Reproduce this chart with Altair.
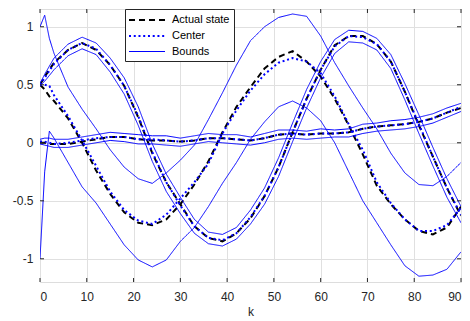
import altair as alt
import pandas as pd

# sample instants (k)
K = [0, 1, 2, 3, 6, 9, 12, 15, 18, 21, 24, 27, 30, 33, 36, 39, 42, 45,
     48, 51, 54, 57, 60, 63, 66, 69, 72, 75, 78, 81, 84, 87, 90]

# state 1 (large oscillation, tight bounds)
A_actual = [0.50, 0.57, 0.63, 0.69, 0.80, 0.86, 0.80, 0.67, 0.49, 0.22, -0.09, -0.34, -0.53, -0.72, -0.82, -0.85, -0.78,
            -0.65, -0.46, -0.21, 0.09, 0.38, 0.63, 0.84, 0.92, 0.92, 0.85, 0.70, 0.44, 0.15, -0.12, -0.39, -0.63]
A_center = [0.50, 0.56, 0.62, 0.68, 0.80, 0.86, 0.81, 0.67, 0.49, 0.23, -0.08, -0.34, -0.54, -0.72, -0.82, -0.84, -0.78,
            -0.64, -0.46, -0.21, 0.09, 0.38, 0.63, 0.83, 0.92, 0.91, 0.85, 0.70, 0.44, 0.16, -0.12, -0.39, -0.62]
A_upper = [0.51, 0.59, 0.66, 0.73, 0.85, 0.91, 0.86, 0.73, 0.56, 0.31, -0.01, -0.27, -0.47, -0.66, -0.77, -0.79, -0.73,
           -0.58, -0.39, -0.13, 0.17, 0.46, 0.70, 0.89, 0.97, 0.96, 0.90, 0.76, 0.51, 0.24, -0.04, -0.31, -0.55]
A_lower = [0.49, 0.53, 0.58, 0.63, 0.75, 0.81, 0.76, 0.61, 0.42, 0.15, -0.16, -0.42, -0.61, -0.78, -0.87, -0.89, -0.83,
           -0.70, -0.53, -0.29, 0.01, 0.30, 0.56, 0.77, 0.87, 0.86, 0.80, 0.64, 0.37, 0.08, -0.20, -0.47, -0.69]

# state 2 (near zero, slowly rising)
B_actual = [0.00, 0.00, -0.01, -0.01, -0.01, 0.01, 0.03, 0.05, 0.05, 0.03, 0.02, 0.02, 0.01, 0.02, 0.04, 0.04, 0.03,
            0.02, 0.04, 0.07, 0.08, 0.07, 0.08, 0.08, 0.09, 0.12, 0.14, 0.15, 0.16, 0.18, 0.21, 0.26, 0.30]
B_center = [0.01, 0.01, 0.00, -0.01, 0.00, 0.02, 0.04, 0.05, 0.05, 0.03, 0.03, 0.02, 0.01, 0.02, 0.04, 0.04, 0.03,
            0.02, 0.04, 0.07, 0.08, 0.07, 0.08, 0.08, 0.09, 0.12, 0.14, 0.15, 0.16, 0.18, 0.21, 0.26, 0.31]
B_upper = [0.03, 0.04, 0.04, 0.03, 0.03, 0.05, 0.07, 0.09, 0.08, 0.07, 0.06, 0.06, 0.04, 0.06, 0.08, 0.07, 0.07,
           0.05, 0.08, 0.11, 0.11, 0.10, 0.12, 0.11, 0.12, 0.16, 0.17, 0.19, 0.20, 0.22, 0.25, 0.30, 0.34]
B_lower = [-0.01, -0.02, -0.03, -0.04, -0.04, -0.02, 0.00, 0.02, 0.01, -0.01, -0.01, -0.02, -0.03, -0.01, 0.01, 0.00, -0.01,
           -0.02, 0.00, 0.03, 0.04, 0.03, 0.04, 0.05, 0.05, 0.08, 0.10, 0.11, 0.12, 0.14, 0.17, 0.22, 0.27]

# state 3 (wide bounds)
C_actual = [0.50, 0.46, 0.40, 0.36, 0.21, 0.00, -0.24, -0.44, -0.60, -0.69, -0.71, -0.66, -0.53, -0.36, -0.16, 0.09, 0.31,
            0.48, 0.64, 0.74, 0.79, 0.70, 0.57, 0.38, 0.15, -0.10, -0.37, -0.53, -0.66, -0.76, -0.79, -0.73, -0.55]
C_center = [0.50, 0.50, 0.49, 0.41, 0.23, 0.02, -0.20, -0.42, -0.58, -0.67, -0.70, -0.62, -0.48, -0.34, -0.18, 0.08, 0.28,
            0.45, 0.59, 0.69, 0.73, 0.70, 0.60, 0.40, 0.16, -0.06, -0.34, -0.52, -0.66, -0.76, -0.76, -0.71, -0.56]
C_upper = [1.00, 1.10, 0.90, 0.77, 0.48, 0.29, 0.12, -0.06, -0.21, -0.31, -0.35, -0.26, -0.15, -0.02, 0.20, 0.43, 0.67,
           0.88, 1.00, 1.08, 1.11, 1.09, 0.92, 0.69, 0.49, 0.30, 0.12, -0.09, -0.26, -0.36, -0.37, -0.29, -0.17]
C_lower = [-1.00, -0.25, 0.10, 0.04, -0.17, -0.38, -0.52, -0.70, -0.88, -1.01, -1.07, -1.01, -0.85, -0.73, -0.55, -0.35, -0.17,
           0.03, 0.18, 0.31, 0.36, 0.30, 0.19, 0.00, -0.25, -0.50, -0.69, -0.88, -1.06, -1.15, -1.14, -1.09, -0.94]

SERIES = ["Actual state", "Center", "Bounds"]
X_TICKS = [0, 10, 20, 30, 40, 50, 60, 70, 80, 90]
Y_TICKS = [-1, -0.5, 0, 0.5, 1]

lines = [
    ("Actual state", "A_act", A_actual), ("Actual state", "B_act", B_actual), ("Actual state", "C_act", C_actual),
    ("Center", "A_cen", A_center), ("Center", "B_cen", B_center), ("Center", "C_cen", C_center),
    ("Bounds", "A_up", A_upper), ("Bounds", "A_lo", A_lower), ("Bounds", "B_up", B_upper),
    ("Bounds", "B_lo", B_lower), ("Bounds", "C_up", C_upper), ("Bounds", "C_lo", C_lower),
]
rows = []
for s, lid, vals in lines:
    for k, v in zip(K, vals):
        rows.append({"k": k, "y": v, "series": s, "line": lid})
df = pd.DataFrame(rows)

W, H = 421, 273
FONT = "Liberation Sans"
TXT = "#262626"

xs = alt.Scale(domain=[0, 90], nice=False, zero=False)
ys = alt.Scale(domain=[-1.2, 1.153], nice=False, zero=False)

xaxis = alt.Axis(values=X_TICKS, grid=True, gridColor="#e0e0e0", ticks=False, domain=False,
                 labelFont=FONT, labelFontSize=12, labelColor=TXT, labelPadding=9,
                 labelExpr="'' + datum.value", title="k", titleFont=FONT, titleFontSize=12,
                 titleFontWeight="normal", titleColor=TXT, titlePadding=4)
yaxis = alt.Axis(values=Y_TICKS, grid=True, gridColor="#e0e0e0", ticks=False, domain=False,
                 labelFont=FONT, labelFontSize=12, labelColor=TXT, labelPadding=7,
                 labelExpr="'' + datum.value", title=None)

leg = alt.Legend(title=None, orient="none", legendX=85, legendY=0, direction="vertical",
                 fillColor="white", strokeColor=TXT, padding=4, labelFont=FONT, labelFontSize=11,
                 labelColor="black", symbolType="M-3,0H3", symbolSize=144, symbolOffset=11,
                 labelOffset=18, rowPadding=4)

enc = dict(
    x=alt.X("k:Q", scale=xs, axis=xaxis),
    y=alt.Y("y:Q", scale=ys, axis=yaxis),
    detail="line:N",
    color=alt.Color("series:N", scale=alt.Scale(domain=SERIES, range=["#000000", "#0000ff", "#0000ff"]), legend=leg),
    strokeDash=alt.StrokeDash("series:N", scale=alt.Scale(domain=SERIES, range=[[6, 4], [2, 2.74], [1, 0]]), legend=leg),
    strokeWidth=alt.StrokeWidth("series:N", scale=alt.Scale(type="ordinal", domain=SERIES, range=[2, 2, 1]), legend=leg),
)

base = alt.Chart(df)
act = base.transform_filter(alt.datum.series == "Actual state").mark_line(clip=True).encode(**enc)
cen = base.transform_filter(alt.datum.series == "Center").mark_line(clip=True).encode(**enc)
bnd = base.transform_filter(alt.datum.series == "Bounds").mark_line(clip=True).encode(**enc)

tx = pd.DataFrame({"k": X_TICKS})
ty = pd.DataFrame({"y": Y_TICKS})
tick_b = alt.Chart(tx).mark_rule(color=TXT, strokeWidth=1).encode(
    x=alt.X("k:Q", scale=xs, axis=xaxis), y=alt.value(H), y2=alt.value(H - 4))
tick_t = alt.Chart(tx).mark_rule(color=TXT, strokeWidth=1).encode(
    x=alt.X("k:Q", scale=xs, axis=xaxis), y=alt.value(0), y2=alt.value(4))
tick_l = alt.Chart(ty).mark_rule(color=TXT, strokeWidth=1).encode(
    y=alt.Y("y:Q", scale=ys, axis=yaxis), x=alt.value(0), x2=alt.value(4))
tick_r = alt.Chart(ty).mark_rule(color=TXT, strokeWidth=1).encode(
    y=alt.Y("y:Q", scale=ys, axis=yaxis), x=alt.value(W - 4), x2=alt.value(W))

chart = alt.layer(act, cen, bnd, tick_b, tick_t, tick_l, tick_r).properties(
    width=W, height=H,
    padding={"left": 32, "top": 1, "right": 1, "bottom": 39},
    autosize=alt.AutoSizeParams(type="none"),
).configure_view(stroke=TXT, strokeWidth=1).configure(background="white")

chart.save("out.html", embed_options={"renderer": "svg", "actions": False})
